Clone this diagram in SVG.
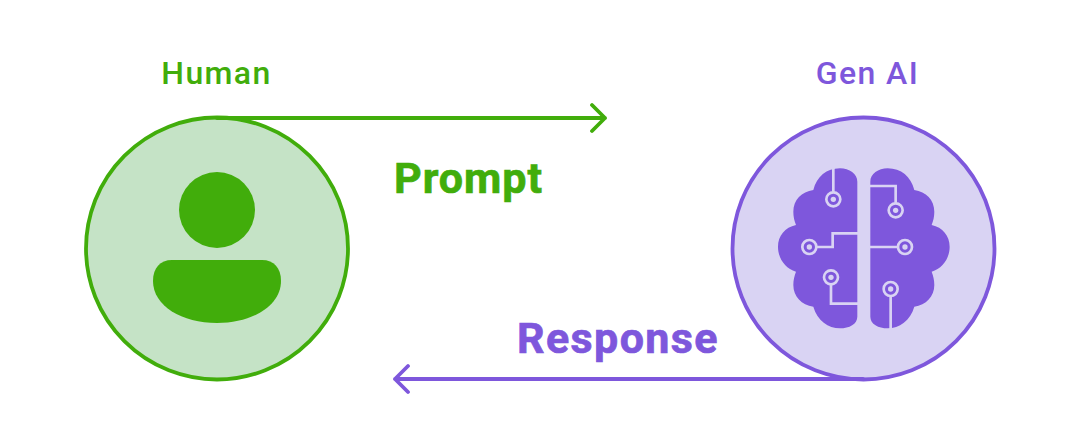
<svg xmlns="http://www.w3.org/2000/svg" width="1080" height="433" viewBox="0 0 1080 433">
<style>
.t{font-family:"Roboto","Liberation Sans",sans-serif}
.g{fill:#41ad0b}.p{fill:#7e57dc}
.lbl{font-size:32px;font-weight:500;letter-spacing:1.4px}
.big{font-size:43px;font-weight:700;letter-spacing:1px;stroke-width:.7px}
.c{stroke-width:3.800}
.cg{fill:none;stroke-width:3.800;stroke-linecap:round;stroke-linejoin:round}
.w{fill:none;stroke:#d9d3f3;stroke-width:8}
.r{fill:#7e57dc;stroke:#d9d3f3;stroke-width:8}
.d{fill:#d9d3f3}
</style>
<rect width="1080" height="433" fill="#fff"/>
<g id="human">
<circle class="c" cx="217" cy="248.500" r="131" fill="#c5e3c6" stroke="#41ad0b"/>
<circle class="g" cx="217" cy="210" r="38"/>
<path class="g" d="M172 260H262C274 260 281 268 281 281C281 306 252 323 217 323C182 323 153 306 153 281C153 268 160 260 172 260Z"/>
<text class="t g lbl" x="216.500" y="84" text-anchor="middle">Human</text>
</g>
<g id="genai">
<circle class="c" cx="863.500" cy="248.500" r="131" fill="#d9d3f3" stroke="#7e57dc"/>
<g transform="translate(760 150) scale(.3333)">
<path class="p" d="M292 95V500C292 522 268 535 240 535C205 535 172 512 160 470C125 465 100 440 100 405C100 390 103 378 108 365C75 355 54 325 54 290C54 258 75 232 108 225C103 212 100 200 100 185C100 150 125 125 160 120C170 80 200 55 240 55C268 55 292 72 292 95Z"/>
<path class="p" d="M331 95V500C331 522 355 535 383 535C418 535 451 512 463 470C498 465 523 440 523 405C523 390 520 378 515 365C548 355 569 325 569 290C569 258 548 232 515 225C520 212 523 200 523 185C523 150 498 125 463 120C453 80 423 55 383 55C355 55 331 72 331 95Z"/>
<path class="w" d="M220 52V125M296 250H218V291H170M296 461H213V405M327 108H407V158M327 291H412M392 538V440"/>
<circle class="r" cx="220" cy="148" r="21"/><circle class="d" cx="220" cy="148" r="8"/>
<circle class="r" cx="148" cy="291" r="21"/><circle class="d" cx="148" cy="291" r="8"/>
<circle class="r" cx="213" cy="382" r="21"/><circle class="d" cx="213" cy="382" r="8"/>
<circle class="r" cx="407" cy="181" r="21"/><circle class="d" cx="407" cy="181" r="8"/>
<circle class="r" cx="435" cy="291" r="21"/><circle class="d" cx="435" cy="291" r="8"/>
<circle class="r" cx="392" cy="417" r="21"/><circle class="d" cx="392" cy="417" r="8"/>
</g>
<text class="t p lbl" x="867.500" y="84" text-anchor="middle">Gen AI</text>
</g>
<g id="connectors">
<path class="cg" stroke="#41ad0b" d="M217 118H605M592 105L605 118L592 131"/>
<path class="cg" stroke="#7e57dc" d="M863 379H395M408 366L395 379L408 392"/>
</g>
<text class="t g big" x="394" y="193" stroke="#41ad0b">Prompt</text>
<text class="t p big" x="517" y="353" stroke="#7e57dc" style="letter-spacing:1.400px">Response</text>
</svg>
